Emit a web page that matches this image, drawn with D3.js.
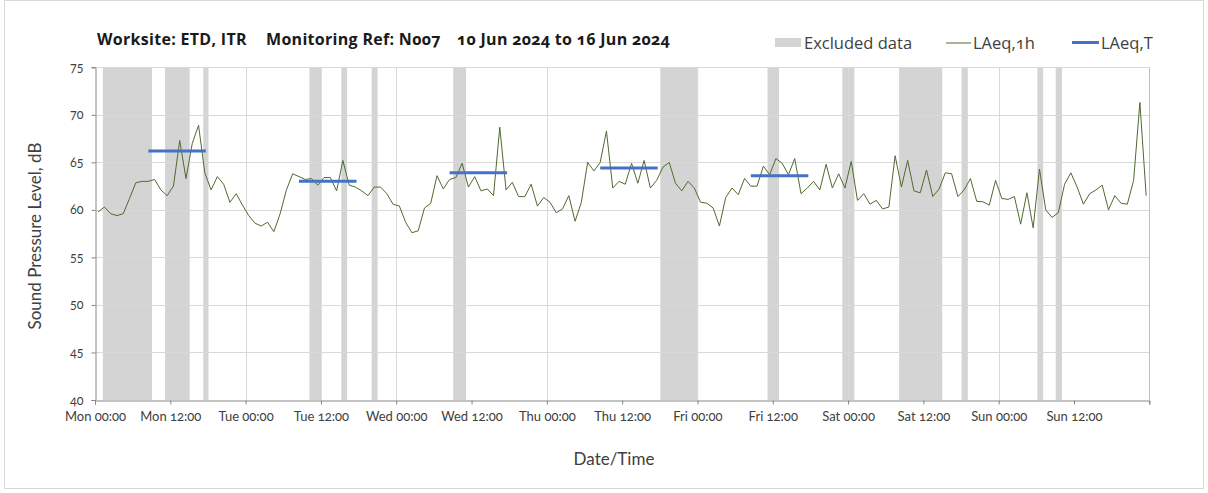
<!DOCTYPE html>
<html>
<head>
<meta charset="utf-8">
<script src="https://cdn.jsdelivr.net/npm/d3@7"></script>
<style>
  body { margin: 0; background: #fff; }
  svg { display: block; font-family: Lato, "Open Sans", sans-serif; font-variant-numeric: oldstyle-nums; }
</style>
</head>
<body>
<svg id="chart" width="1208" height="493"></svg>
<script>
// Hourly LAeq values, first hour centred on 10 Jun 2024 00:30
const seriesStart = "2024-06-10 00:30";
const laeq1h = [
  59.8, 60.3, 59.6, 59.4, 59.6, 61.2, 62.85, 63.0, 63.0, 63.2, 62.1, 61.5, 62.5, 67.3, 63.3, 67.0, 68.9, 63.9, 62.1, 63.5, 62.7, 60.8, 61.7, 60.5, 59.4, 58.6, 58.3, 58.7,
  57.7, 59.6, 62.1, 63.8, 63.5, 63.2, 63.3, 62.6, 63.4, 63.4, 62.0, 65.2, 62.6, 62.4, 62.0, 61.5, 62.4, 62.4, 61.7, 60.6, 60.4, 58.7, 57.6, 57.8, 60.2, 60.7, 63.6, 62.2,
  63.2, 63.4, 64.9, 62.4, 63.5, 62.0, 62.2, 61.5, 68.7, 62.1, 62.9, 61.4, 61.4, 62.7, 60.4, 61.3, 60.8, 59.7, 60.1, 61.5, 58.8, 60.8, 65.0, 64.1, 65.0, 68.3, 62.3, 63.0,
  62.7, 64.9, 62.8, 65.2, 62.3, 63.1, 64.5, 65.0, 62.8, 62.0, 63.0, 62.3, 60.8, 60.7, 60.2, 58.3, 61.3, 62.3, 61.6, 63.3, 62.5, 62.5, 64.6, 63.7, 65.4, 64.9, 63.7, 65.4,
  61.7, 62.3, 63.0, 62.1, 64.8, 62.3, 63.8, 62.3, 65.1, 61.0, 61.7, 60.6, 61.0, 60.1, 60.3, 65.7, 62.4, 65.2, 62.0, 61.8, 64.2, 61.4, 62.2, 63.9, 63.8, 61.4, 62.1, 63.3,
  60.9, 60.85, 60.5, 63.1, 61.2, 61.1, 61.4, 58.5, 61.8, 58.1, 64.3, 60.0, 59.2, 59.7, 62.7, 63.9, 62.4, 60.6, 61.7, 62.1, 62.6, 60.0, 61.5, 60.7, 60.6, 63.1, 71.3, 61.5
];

// Periods excluded from the assessment
const excludedStart = [
  "2024-06-10 01:15", "2024-06-10 11:10", "2024-06-10 17:15", "2024-06-11 10:10",
  "2024-06-11 15:15", "2024-06-11 20:05", "2024-06-12 09:05", "2024-06-13 18:05",
  "2024-06-14 11:10", "2024-06-14 23:05", "2024-06-15 08:08", "2024-06-15 18:05",
  "2024-06-16 06:10", "2024-06-16 09:05"
];
const excludedEnd = [
  "2024-06-10 09:05", "2024-06-10 15:05", "2024-06-10 18:05", "2024-06-11 12:08",
  "2024-06-11 16:10", "2024-06-11 21:02", "2024-06-12 11:07", "2024-06-14 00:07",
  "2024-06-14 13:00", "2024-06-15 01:00", "2024-06-15 15:00", "2024-06-15 19:05",
  "2024-06-16 07:05", "2024-06-16 10:05"
];

// Daytime LAeq,T over each weekday assessment period
const periodStart = ["2024-06-10 08:30", "2024-06-11 08:30", "2024-06-12 08:30", "2024-06-13 08:30", "2024-06-14 08:30"];
const periodEnd   = ["2024-06-10 17:40", "2024-06-11 17:40", "2024-06-12 17:40", "2024-06-13 17:40", "2024-06-14 17:40"];
const laeqT = [66.2, 63.0, 63.9, 64.4, 63.6];

const yTicks = [40, 45, 50, 55, 60, 65, 70, 75];
const titleParts = ["Worksite: ETD, ITR", "Monitoring Ref: N007", "10 Jun 2024 to 16 Jun 2024"];
const legendLabels = ["Excluded data", "LAeq,1h", "LAeq,T"];

const parse = d3.timeParse("%Y-%m-%d %H:%M");
const t0 = parse("2024-06-10 00:00");
const t1 = parse("2024-06-17 00:00");
const first = parse(seriesStart);

const hourly = laeq1h.map((v, i) => ({ t: d3.timeHour.offset(first, i), v }));
const excluded = excludedStart.map((s, i) => ({ s: parse(s), e: parse(excludedEnd[i]) }));
const periods = laeqT.map((v, i) => ({ s: parse(periodStart[i]), e: parse(periodEnd[i]), v }));

const svg = d3.select("#chart");
const plotLeft = 95, plotRight = 1149.3, plotTop = 67.3, plotBottom = 400;

const x = d3.scaleTime().domain([t0, t1]).range([plotLeft, plotRight]);
const y = d3.scaleLinear().domain([40, 75]).range([plotBottom, plotTop]);

const colText = "#404040";
const colBand = "#d4d4d4";
const colGrid = "#d9d9d9";
const colAxis = "#868686";
const colLine = "#4f6b2f";
const colBlue = "#4472c4";

// Outer frame
svg.append("rect")
  .attr("x", 4.5).attr("y", 0.5).attr("width", 1199).attr("height", 488)
  .attr("fill", "#fff").attr("stroke", "#d9d9d9");

// Excluded-data bands
svg.append("g").selectAll("rect").data(excluded).join("rect")
  .attr("x", d => x(d.s))
  .attr("width", d => x(d.e) - x(d.s))
  .attr("y", plotTop).attr("height", plotBottom - plotTop)
  .attr("fill", colBand);

// Gridlines
const grid = svg.append("g").attr("stroke", colGrid).attr("stroke-width", 1);
grid.selectAll("line.h").data(yTicks.filter(v => v > 40)).join("line")
  .attr("class", "h")
  .attr("x1", plotLeft).attr("x2", plotRight)
  .attr("y1", d => Math.round(y(d)) + 0.5).attr("y2", d => Math.round(y(d)) + 0.5);
grid.selectAll("line.v").data(d3.timeDay.range(d3.timeDay.offset(t0, 1), t1)).join("line")
  .attr("class", "v")
  .attr("y1", plotTop).attr("y2", plotBottom)
  .attr("x1", d => Math.round(x(d)) + 0.5).attr("x2", d => Math.round(x(d)) + 0.5);
svg.append("line")
  .attr("x1", Math.round(plotRight) + 0.5).attr("x2", Math.round(plotRight) + 0.5)
  .attr("y1", plotTop).attr("y2", plotBottom).attr("stroke", "#bfbfbf");

// Axes: ticks every 12 h, the closing midnight carries a tick but no label
const fmtTick = d3.timeFormat("%a %H:%M");
const xAxis = d3.axisBottom(x)
  .tickValues(d3.timeHour.every(12).range(t0, d3.timeHour.offset(t1, 1)))
  .tickSize(4).tickPadding(7)
  .tickFormat(d => (+d === +t1 ? "" : fmtTick(d)));
const gx = svg.append("g").attr("transform", `translate(0,${Math.round(plotBottom) + 0.5})`).call(xAxis);
gx.select(".domain").attr("stroke", colAxis);
gx.selectAll(".tick line").attr("stroke", colAxis);
gx.selectAll(".tick text").attr("fill", colText).attr("font-size", 13).attr("font-family", "Lato, sans-serif");

const yAxis = d3.axisLeft(y).tickValues(yTicks).tickSize(4).tickPadding(8);
const gy = svg.append("g").attr("transform", `translate(${Math.round(plotLeft) + 0.5},0)`).call(yAxis);
gy.select(".domain").attr("stroke", colAxis);
gy.selectAll(".tick line").attr("stroke", colAxis);
gy.selectAll(".tick text").attr("fill", colText).attr("font-size", 12.5).attr("font-family", "Lato, sans-serif");

// Hourly series
svg.append("path")
  .datum(hourly)
  .attr("fill", "none")
  .attr("stroke", colLine)
  .attr("stroke-width", 1)
  .attr("stroke-linejoin", "round")
  .attr("d", d3.line().x(d => x(d.t)).y(d => y(d.v)));

// LAeq,T segments
svg.append("g").selectAll("line").data(periods).join("line")
  .attr("x1", d => x(d.s)).attr("x2", d => x(d.e))
  .attr("y1", d => y(d.v)).attr("y2", d => y(d.v))
  .attr("stroke", colBlue).attr("stroke-width", 3);

// Axis titles
svg.append("text")
  .attr("x", 614).attr("y", 465)
  .attr("text-anchor", "middle").attr("fill", colText)
  .attr("font-size", 17).text("Date/Time");
svg.append("text")
  .attr("transform", "translate(41,236) rotate(-90)")
  .attr("text-anchor", "middle").attr("fill", colText)
  .attr("font-size", 17).text("Sound Pressure Level, dB");

// Title
const titleX = [97, 266, 457];
svg.append("g").selectAll("text").data(titleParts).join("text")
  .attr("x", (d, i) => titleX[i]).attr("y", 45)
  .attr("font-family", "'Open Sans', sans-serif")
  .attr("font-size", 16).attr("letter-spacing", 0.3)
  .attr("font-weight", "bold").attr("fill", "#1a1a1a")
  .text(d => d);

// Legend
const lg = svg.append("g").attr("fill", colText).attr("font-size", 16.5).attr("font-family", "'Open Sans', sans-serif");
lg.append("rect").attr("x", 775).attr("y", 38).attr("width", 26).attr("height", 9).attr("fill", colBand);
lg.append("text").attr("x", 804).attr("y", 48.5).text(legendLabels[0]);
lg.append("line").attr("x1", 946).attr("x2", 971).attr("y1", 43).attr("y2", 43).attr("stroke", colLine).attr("stroke-width", 1);
lg.append("text").attr("x", 973).attr("y", 48.5).text(legendLabels[1]);
lg.append("line").attr("x1", 1072).attr("x2", 1099).attr("y1", 42.5).attr("y2", 42.5).attr("stroke", colBlue).attr("stroke-width", 3);
lg.append("text").attr("x", 1101).attr("y", 48.5).text(legendLabels[2]);
</script>
</body>
</html>
